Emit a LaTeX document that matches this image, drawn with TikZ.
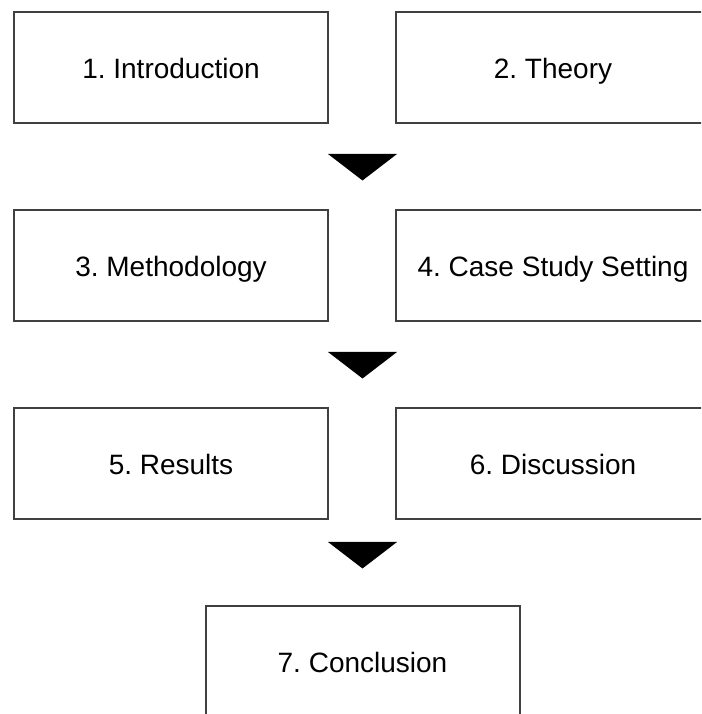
\documentclass[tikz,border=0pt]{standalone}
\usepackage{fontspec}
\setmainfont{Liberation Sans}
\usetikzlibrary{calc}
\frenchspacing
\begin{document}
\begin{tikzpicture}[x=1pt,y=1pt,
  section/.style={draw=black!75, line width=2pt, fill=white,
    minimum width=314pt, minimum height=111pt, inner sep=0pt,
    text height=22pt, text depth=0pt,
    font=\fontsize{28}{34}\selectfont},
  downtri/.style={fill=black, draw=none}]
\useasboundingbox (0,0) rectangle (701,714);
\clip (0,0) rectangle (701,714);
% row 1
\node[section] (intro)  at (171,646.5) {1. Introduction};
\node[section] (theory) at (553,646.5) {2. Theory};
% row 2
\node[section] (method) at (171,448.5) {3. Methodology};
\node[section] (case)   at (553,448.5) {4. Case Study Setting};
% row 3
\node[section] (results) at (171,250) {5. Results};
\node[section] (disc)    at (553,250) {6. Discussion};
% final
\node[section] (concl) at (362.5,52) {7. Conclusion};
% flow markers between rows
\coordinate (t1) at (362.5,560);
\coordinate (t2) at (362.5,362);
\coordinate (t3) at (362.5,172);
\foreach \t in {t1,t2,t3}{
  \fill[downtri] ($(\t)+(-34.5,0)$) -- ($(\t)+(34.5,0)$) -- ($(\t)+(0,-26.5)$) -- cycle;
}
\end{tikzpicture}
\end{document}
